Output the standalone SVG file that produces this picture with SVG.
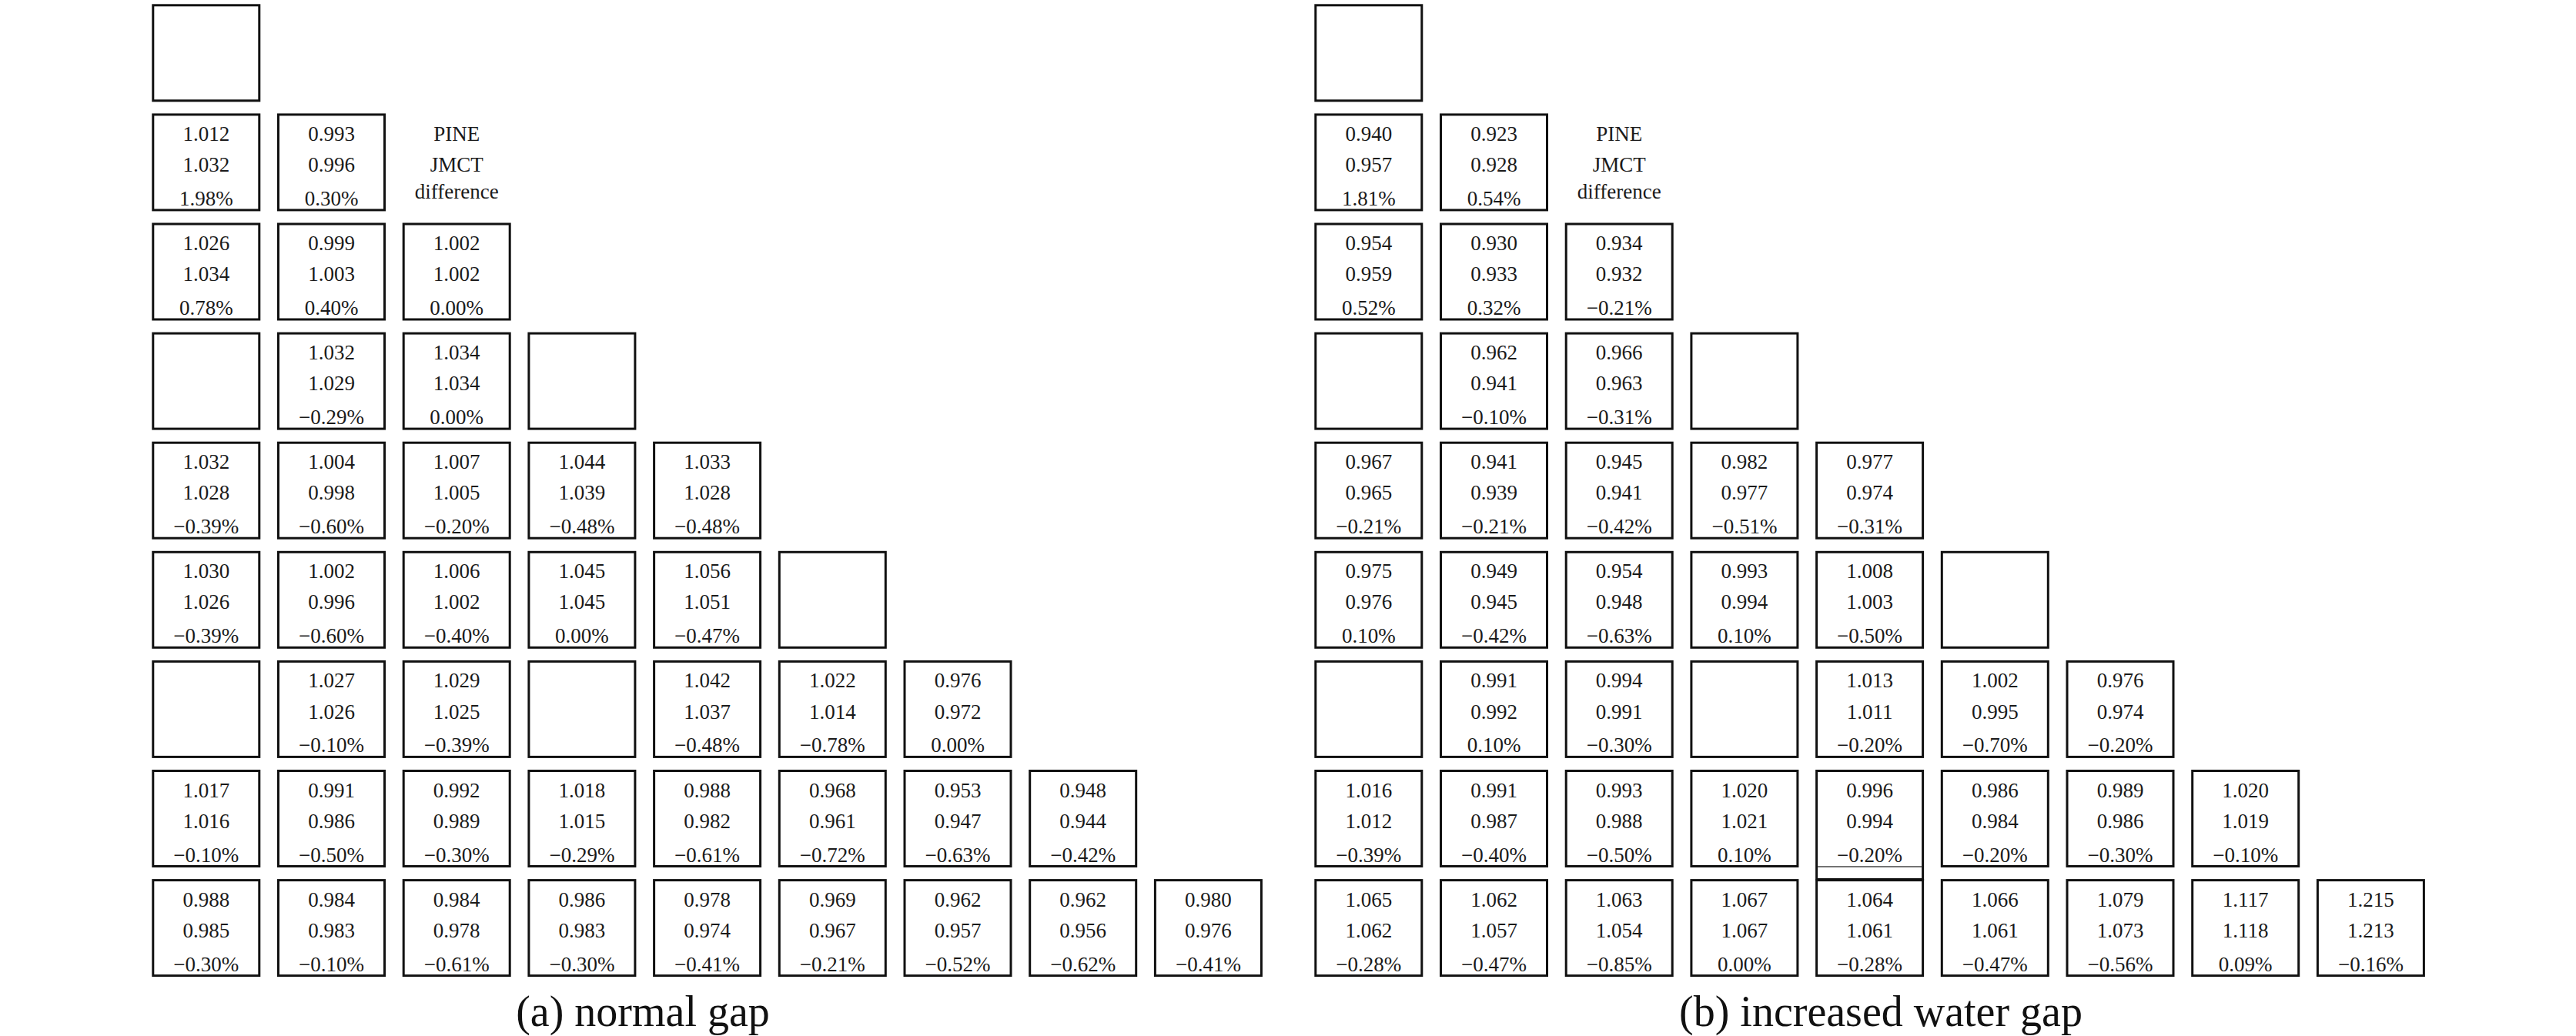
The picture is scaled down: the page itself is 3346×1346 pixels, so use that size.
<svg xmlns="http://www.w3.org/2000/svg" width="3346" height="1346" viewBox="0 0 3346 1346">
<style>
.b{fill:none;stroke:#111;stroke-width:3}
.t{font-family:"Liberation Serif","Times New Roman",serif;font-size:27px;fill:#1a1a1a;text-anchor:middle}
.cap{font-family:"Liberation Serif","Times New Roman",serif;font-size:56px;fill:#111;text-anchor:middle}
</style>
<rect width="3346" height="1346" fill="#fff"/>
<defs>
<rect id="box" class="b" x="1.5" y="1.5" width="138" height="124"/>
</defs>
<g id="panel-a">
<g id="a-r0c0" transform="translate(197.3,5.3)"><use href="#box"/></g>
<g id="a-r1c0" transform="translate(197.3,147.4)"><use href="#box"/><text class="t" x="70.5" y="35.5">1.012</text><text class="t" x="70.5" y="75.7">1.032</text><text class="t" x="70.5" y="119.5">1.98%</text></g>
<g id="a-r1c1" transform="translate(360,147.4)"><use href="#box"/><text class="t" x="70.5" y="35.5">0.993</text><text class="t" x="70.5" y="75.7">0.996</text><text class="t" x="70.5" y="119.5">0.30%</text></g>
<g id="a-legend" transform="translate(522.7,147.4)"><text class="t" x="70.5" y="35.5">PINE</text><text class="t" x="70.5" y="75.7">JMCT</text><text class="t" x="70.5" y="110.5">difference</text></g>
<g id="a-r2c0" transform="translate(197.3,289.5)"><use href="#box"/><text class="t" x="70.5" y="35.5">1.026</text><text class="t" x="70.5" y="75.7">1.034</text><text class="t" x="70.5" y="119.5">0.78%</text></g>
<g id="a-r2c1" transform="translate(360,289.5)"><use href="#box"/><text class="t" x="70.5" y="35.5">0.999</text><text class="t" x="70.5" y="75.7">1.003</text><text class="t" x="70.5" y="119.5">0.40%</text></g>
<g id="a-r2c2" transform="translate(522.7,289.5)"><use href="#box"/><text class="t" x="70.5" y="35.5">1.002</text><text class="t" x="70.5" y="75.7">1.002</text><text class="t" x="70.5" y="119.5">0.00%</text></g>
<g id="a-r3c0" transform="translate(197.3,431.6)"><use href="#box"/></g>
<g id="a-r3c1" transform="translate(360,431.6)"><use href="#box"/><text class="t" x="70.5" y="35.5">1.032</text><text class="t" x="70.5" y="75.7">1.029</text><text class="t" x="70.5" y="119.5">−0.29%</text></g>
<g id="a-r3c2" transform="translate(522.7,431.6)"><use href="#box"/><text class="t" x="70.5" y="35.5">1.034</text><text class="t" x="70.5" y="75.7">1.034</text><text class="t" x="70.5" y="119.5">0.00%</text></g>
<g id="a-r3c3" transform="translate(685.4,431.6)"><use href="#box"/></g>
<g id="a-r4c0" transform="translate(197.3,573.7)"><use href="#box"/><text class="t" x="70.5" y="35.5">1.032</text><text class="t" x="70.5" y="75.7">1.028</text><text class="t" x="70.5" y="119.5">−0.39%</text></g>
<g id="a-r4c1" transform="translate(360,573.7)"><use href="#box"/><text class="t" x="70.5" y="35.5">1.004</text><text class="t" x="70.5" y="75.7">0.998</text><text class="t" x="70.5" y="119.5">−0.60%</text></g>
<g id="a-r4c2" transform="translate(522.7,573.7)"><use href="#box"/><text class="t" x="70.5" y="35.5">1.007</text><text class="t" x="70.5" y="75.7">1.005</text><text class="t" x="70.5" y="119.5">−0.20%</text></g>
<g id="a-r4c3" transform="translate(685.4,573.7)"><use href="#box"/><text class="t" x="70.5" y="35.5">1.044</text><text class="t" x="70.5" y="75.7">1.039</text><text class="t" x="70.5" y="119.5">−0.48%</text></g>
<g id="a-r4c4" transform="translate(848.1,573.7)"><use href="#box"/><text class="t" x="70.5" y="35.5">1.033</text><text class="t" x="70.5" y="75.7">1.028</text><text class="t" x="70.5" y="119.5">−0.48%</text></g>
<g id="a-r5c0" transform="translate(197.3,715.8)"><use href="#box"/><text class="t" x="70.5" y="35.5">1.030</text><text class="t" x="70.5" y="75.7">1.026</text><text class="t" x="70.5" y="119.5">−0.39%</text></g>
<g id="a-r5c1" transform="translate(360,715.8)"><use href="#box"/><text class="t" x="70.5" y="35.5">1.002</text><text class="t" x="70.5" y="75.7">0.996</text><text class="t" x="70.5" y="119.5">−0.60%</text></g>
<g id="a-r5c2" transform="translate(522.7,715.8)"><use href="#box"/><text class="t" x="70.5" y="35.5">1.006</text><text class="t" x="70.5" y="75.7">1.002</text><text class="t" x="70.5" y="119.5">−0.40%</text></g>
<g id="a-r5c3" transform="translate(685.4,715.8)"><use href="#box"/><text class="t" x="70.5" y="35.5">1.045</text><text class="t" x="70.5" y="75.7">1.045</text><text class="t" x="70.5" y="119.5">0.00%</text></g>
<g id="a-r5c4" transform="translate(848.1,715.8)"><use href="#box"/><text class="t" x="70.5" y="35.5">1.056</text><text class="t" x="70.5" y="75.7">1.051</text><text class="t" x="70.5" y="119.5">−0.47%</text></g>
<g id="a-r5c5" transform="translate(1010.8,715.8)"><use href="#box"/></g>
<g id="a-r6c0" transform="translate(197.3,857.9)"><use href="#box"/></g>
<g id="a-r6c1" transform="translate(360,857.9)"><use href="#box"/><text class="t" x="70.5" y="35.5">1.027</text><text class="t" x="70.5" y="75.7">1.026</text><text class="t" x="70.5" y="119.5">−0.10%</text></g>
<g id="a-r6c2" transform="translate(522.7,857.9)"><use href="#box"/><text class="t" x="70.5" y="35.5">1.029</text><text class="t" x="70.5" y="75.7">1.025</text><text class="t" x="70.5" y="119.5">−0.39%</text></g>
<g id="a-r6c3" transform="translate(685.4,857.9)"><use href="#box"/></g>
<g id="a-r6c4" transform="translate(848.1,857.9)"><use href="#box"/><text class="t" x="70.5" y="35.5">1.042</text><text class="t" x="70.5" y="75.7">1.037</text><text class="t" x="70.5" y="119.5">−0.48%</text></g>
<g id="a-r6c5" transform="translate(1010.8,857.9)"><use href="#box"/><text class="t" x="70.5" y="35.5">1.022</text><text class="t" x="70.5" y="75.7">1.014</text><text class="t" x="70.5" y="119.5">−0.78%</text></g>
<g id="a-r6c6" transform="translate(1173.5,857.9)"><use href="#box"/><text class="t" x="70.5" y="35.5">0.976</text><text class="t" x="70.5" y="75.7">0.972</text><text class="t" x="70.5" y="119.5">0.00%</text></g>
<g id="a-r7c0" transform="translate(197.3,1000)"><use href="#box"/><text class="t" x="70.5" y="35.5">1.017</text><text class="t" x="70.5" y="75.7">1.016</text><text class="t" x="70.5" y="119.5">−0.10%</text></g>
<g id="a-r7c1" transform="translate(360,1000)"><use href="#box"/><text class="t" x="70.5" y="35.5">0.991</text><text class="t" x="70.5" y="75.7">0.986</text><text class="t" x="70.5" y="119.5">−0.50%</text></g>
<g id="a-r7c2" transform="translate(522.7,1000)"><use href="#box"/><text class="t" x="70.5" y="35.5">0.992</text><text class="t" x="70.5" y="75.7">0.989</text><text class="t" x="70.5" y="119.5">−0.30%</text></g>
<g id="a-r7c3" transform="translate(685.4,1000)"><use href="#box"/><text class="t" x="70.5" y="35.5">1.018</text><text class="t" x="70.5" y="75.7">1.015</text><text class="t" x="70.5" y="119.5">−0.29%</text></g>
<g id="a-r7c4" transform="translate(848.1,1000)"><use href="#box"/><text class="t" x="70.5" y="35.5">0.988</text><text class="t" x="70.5" y="75.7">0.982</text><text class="t" x="70.5" y="119.5">−0.61%</text></g>
<g id="a-r7c5" transform="translate(1010.8,1000)"><use href="#box"/><text class="t" x="70.5" y="35.5">0.968</text><text class="t" x="70.5" y="75.7">0.961</text><text class="t" x="70.5" y="119.5">−0.72%</text></g>
<g id="a-r7c6" transform="translate(1173.5,1000)"><use href="#box"/><text class="t" x="70.5" y="35.5">0.953</text><text class="t" x="70.5" y="75.7">0.947</text><text class="t" x="70.5" y="119.5">−0.63%</text></g>
<g id="a-r7c7" transform="translate(1336.2,1000)"><use href="#box"/><text class="t" x="70.5" y="35.5">0.948</text><text class="t" x="70.5" y="75.7">0.944</text><text class="t" x="70.5" y="119.5">−0.42%</text></g>
<g id="a-r8c0" transform="translate(197.3,1142.1)"><use href="#box"/><text class="t" x="70.5" y="35.5">0.988</text><text class="t" x="70.5" y="75.7">0.985</text><text class="t" x="70.5" y="119.5">−0.30%</text></g>
<g id="a-r8c1" transform="translate(360,1142.1)"><use href="#box"/><text class="t" x="70.5" y="35.5">0.984</text><text class="t" x="70.5" y="75.7">0.983</text><text class="t" x="70.5" y="119.5">−0.10%</text></g>
<g id="a-r8c2" transform="translate(522.7,1142.1)"><use href="#box"/><text class="t" x="70.5" y="35.5">0.984</text><text class="t" x="70.5" y="75.7">0.978</text><text class="t" x="70.5" y="119.5">−0.61%</text></g>
<g id="a-r8c3" transform="translate(685.4,1142.1)"><use href="#box"/><text class="t" x="70.5" y="35.5">0.986</text><text class="t" x="70.5" y="75.7">0.983</text><text class="t" x="70.5" y="119.5">−0.30%</text></g>
<g id="a-r8c4" transform="translate(848.1,1142.1)"><use href="#box"/><text class="t" x="70.5" y="35.5">0.978</text><text class="t" x="70.5" y="75.7">0.974</text><text class="t" x="70.5" y="119.5">−0.41%</text></g>
<g id="a-r8c5" transform="translate(1010.8,1142.1)"><use href="#box"/><text class="t" x="70.5" y="35.5">0.969</text><text class="t" x="70.5" y="75.7">0.967</text><text class="t" x="70.5" y="119.5">−0.21%</text></g>
<g id="a-r8c6" transform="translate(1173.5,1142.1)"><use href="#box"/><text class="t" x="70.5" y="35.5">0.962</text><text class="t" x="70.5" y="75.7">0.957</text><text class="t" x="70.5" y="119.5">−0.52%</text></g>
<g id="a-r8c7" transform="translate(1336.2,1142.1)"><use href="#box"/><text class="t" x="70.5" y="35.5">0.962</text><text class="t" x="70.5" y="75.7">0.956</text><text class="t" x="70.5" y="119.5">−0.62%</text></g>
<g id="a-r8c8" transform="translate(1498.9,1142.1)"><use href="#box"/><text class="t" x="70.5" y="35.5">0.980</text><text class="t" x="70.5" y="75.7">0.976</text><text class="t" x="70.5" y="119.5">−0.41%</text></g>
<text id="caption-a" class="cap" x="835" y="1333">(a) normal gap</text>
</g>
<g id="panel-b">
<g id="b-r0c0" transform="translate(1707.3,5.3)"><use href="#box"/></g>
<g id="b-r1c0" transform="translate(1707.3,147.4)"><use href="#box"/><text class="t" x="70.5" y="35.5">0.940</text><text class="t" x="70.5" y="75.7">0.957</text><text class="t" x="70.5" y="119.5">1.81%</text></g>
<g id="b-r1c1" transform="translate(1870,147.4)"><use href="#box"/><text class="t" x="70.5" y="35.5">0.923</text><text class="t" x="70.5" y="75.7">0.928</text><text class="t" x="70.5" y="119.5">0.54%</text></g>
<g id="b-legend" transform="translate(2032.7,147.4)"><text class="t" x="70.5" y="35.5">PINE</text><text class="t" x="70.5" y="75.7">JMCT</text><text class="t" x="70.5" y="110.5">difference</text></g>
<g id="b-r2c0" transform="translate(1707.3,289.5)"><use href="#box"/><text class="t" x="70.5" y="35.5">0.954</text><text class="t" x="70.5" y="75.7">0.959</text><text class="t" x="70.5" y="119.5">0.52%</text></g>
<g id="b-r2c1" transform="translate(1870,289.5)"><use href="#box"/><text class="t" x="70.5" y="35.5">0.930</text><text class="t" x="70.5" y="75.7">0.933</text><text class="t" x="70.5" y="119.5">0.32%</text></g>
<g id="b-r2c2" transform="translate(2032.7,289.5)"><use href="#box"/><text class="t" x="70.5" y="35.5">0.934</text><text class="t" x="70.5" y="75.7">0.932</text><text class="t" x="70.5" y="119.5">−0.21%</text></g>
<g id="b-r3c0" transform="translate(1707.3,431.6)"><use href="#box"/></g>
<g id="b-r3c1" transform="translate(1870,431.6)"><use href="#box"/><text class="t" x="70.5" y="35.5">0.962</text><text class="t" x="70.5" y="75.7">0.941</text><text class="t" x="70.5" y="119.5">−0.10%</text></g>
<g id="b-r3c2" transform="translate(2032.7,431.6)"><use href="#box"/><text class="t" x="70.5" y="35.5">0.966</text><text class="t" x="70.5" y="75.7">0.963</text><text class="t" x="70.5" y="119.5">−0.31%</text></g>
<g id="b-r3c3" transform="translate(2195.4,431.6)"><use href="#box"/></g>
<g id="b-r4c0" transform="translate(1707.3,573.7)"><use href="#box"/><text class="t" x="70.5" y="35.5">0.967</text><text class="t" x="70.5" y="75.7">0.965</text><text class="t" x="70.5" y="119.5">−0.21%</text></g>
<g id="b-r4c1" transform="translate(1870,573.7)"><use href="#box"/><text class="t" x="70.5" y="35.5">0.941</text><text class="t" x="70.5" y="75.7">0.939</text><text class="t" x="70.5" y="119.5">−0.21%</text></g>
<g id="b-r4c2" transform="translate(2032.7,573.7)"><use href="#box"/><text class="t" x="70.5" y="35.5">0.945</text><text class="t" x="70.5" y="75.7">0.941</text><text class="t" x="70.5" y="119.5">−0.42%</text></g>
<g id="b-r4c3" transform="translate(2195.4,573.7)"><use href="#box"/><text class="t" x="70.5" y="35.5">0.982</text><text class="t" x="70.5" y="75.7">0.977</text><text class="t" x="70.5" y="119.5">−0.51%</text></g>
<g id="b-r4c4" transform="translate(2358.1,573.7)"><use href="#box"/><text class="t" x="70.5" y="35.5">0.977</text><text class="t" x="70.5" y="75.7">0.974</text><text class="t" x="70.5" y="119.5">−0.31%</text></g>
<g id="b-r5c0" transform="translate(1707.3,715.8)"><use href="#box"/><text class="t" x="70.5" y="35.5">0.975</text><text class="t" x="70.5" y="75.7">0.976</text><text class="t" x="70.5" y="119.5">0.10%</text></g>
<g id="b-r5c1" transform="translate(1870,715.8)"><use href="#box"/><text class="t" x="70.5" y="35.5">0.949</text><text class="t" x="70.5" y="75.7">0.945</text><text class="t" x="70.5" y="119.5">−0.42%</text></g>
<g id="b-r5c2" transform="translate(2032.7,715.8)"><use href="#box"/><text class="t" x="70.5" y="35.5">0.954</text><text class="t" x="70.5" y="75.7">0.948</text><text class="t" x="70.5" y="119.5">−0.63%</text></g>
<g id="b-r5c3" transform="translate(2195.4,715.8)"><use href="#box"/><text class="t" x="70.5" y="35.5">0.993</text><text class="t" x="70.5" y="75.7">0.994</text><text class="t" x="70.5" y="119.5">0.10%</text></g>
<g id="b-r5c4" transform="translate(2358.1,715.8)"><use href="#box"/><text class="t" x="70.5" y="35.5">1.008</text><text class="t" x="70.5" y="75.7">1.003</text><text class="t" x="70.5" y="119.5">−0.50%</text></g>
<g id="b-r5c5" transform="translate(2520.8,715.8)"><use href="#box"/></g>
<g id="b-r6c0" transform="translate(1707.3,857.9)"><use href="#box"/></g>
<g id="b-r6c1" transform="translate(1870,857.9)"><use href="#box"/><text class="t" x="70.5" y="35.5">0.991</text><text class="t" x="70.5" y="75.7">0.992</text><text class="t" x="70.5" y="119.5">0.10%</text></g>
<g id="b-r6c2" transform="translate(2032.7,857.9)"><use href="#box"/><text class="t" x="70.5" y="35.5">0.994</text><text class="t" x="70.5" y="75.7">0.991</text><text class="t" x="70.5" y="119.5">−0.30%</text></g>
<g id="b-r6c3" transform="translate(2195.4,857.9)"><use href="#box"/></g>
<g id="b-r6c4" transform="translate(2358.1,857.9)"><use href="#box"/><text class="t" x="70.5" y="35.5">1.013</text><text class="t" x="70.5" y="75.7">1.011</text><text class="t" x="70.5" y="119.5">−0.20%</text></g>
<g id="b-r6c5" transform="translate(2520.8,857.9)"><use href="#box"/><text class="t" x="70.5" y="35.5">1.002</text><text class="t" x="70.5" y="75.7">0.995</text><text class="t" x="70.5" y="119.5">−0.70%</text></g>
<g id="b-r6c6" transform="translate(2683.5,857.9)"><use href="#box"/><text class="t" x="70.5" y="35.5">0.976</text><text class="t" x="70.5" y="75.7">0.974</text><text class="t" x="70.5" y="119.5">−0.20%</text></g>
<g id="b-r7c0" transform="translate(1707.3,1000)"><use href="#box"/><text class="t" x="70.5" y="35.5">1.016</text><text class="t" x="70.5" y="75.7">1.012</text><text class="t" x="70.5" y="119.5">−0.39%</text></g>
<g id="b-r7c1" transform="translate(1870,1000)"><use href="#box"/><text class="t" x="70.5" y="35.5">0.991</text><text class="t" x="70.5" y="75.7">0.987</text><text class="t" x="70.5" y="119.5">−0.40%</text></g>
<g id="b-r7c2" transform="translate(2032.7,1000)"><use href="#box"/><text class="t" x="70.5" y="35.5">0.993</text><text class="t" x="70.5" y="75.7">0.988</text><text class="t" x="70.5" y="119.5">−0.50%</text></g>
<g id="b-r7c3" transform="translate(2195.4,1000)"><use href="#box"/><text class="t" x="70.5" y="35.5">1.020</text><text class="t" x="70.5" y="75.7">1.021</text><text class="t" x="70.5" y="119.5">0.10%</text></g>
<g id="b-r7c4" transform="translate(2358.1,1000)"><rect class="b" x="1.5" y="1.5" width="138" height="141"/><line x1="3" y1="126" x2="138" y2="126" stroke="#444" stroke-width="1.3"/><text class="t" x="70.5" y="35.5">0.996</text><text class="t" x="70.5" y="75.7">0.994</text><text class="t" x="70.5" y="119.5">−0.20%</text></g>
<g id="b-r7c5" transform="translate(2520.8,1000)"><use href="#box"/><text class="t" x="70.5" y="35.5">0.986</text><text class="t" x="70.5" y="75.7">0.984</text><text class="t" x="70.5" y="119.5">−0.20%</text></g>
<g id="b-r7c6" transform="translate(2683.5,1000)"><use href="#box"/><text class="t" x="70.5" y="35.5">0.989</text><text class="t" x="70.5" y="75.7">0.986</text><text class="t" x="70.5" y="119.5">−0.30%</text></g>
<g id="b-r7c7" transform="translate(2846.2,1000)"><use href="#box"/><text class="t" x="70.5" y="35.5">1.020</text><text class="t" x="70.5" y="75.7">1.019</text><text class="t" x="70.5" y="119.5">−0.10%</text></g>
<g id="b-r8c0" transform="translate(1707.3,1142.1)"><use href="#box"/><text class="t" x="70.5" y="35.5">1.065</text><text class="t" x="70.5" y="75.7">1.062</text><text class="t" x="70.5" y="119.5">−0.28%</text></g>
<g id="b-r8c1" transform="translate(1870,1142.1)"><use href="#box"/><text class="t" x="70.5" y="35.5">1.062</text><text class="t" x="70.5" y="75.7">1.057</text><text class="t" x="70.5" y="119.5">−0.47%</text></g>
<g id="b-r8c2" transform="translate(2032.7,1142.1)"><use href="#box"/><text class="t" x="70.5" y="35.5">1.063</text><text class="t" x="70.5" y="75.7">1.054</text><text class="t" x="70.5" y="119.5">−0.85%</text></g>
<g id="b-r8c3" transform="translate(2195.4,1142.1)"><use href="#box"/><text class="t" x="70.5" y="35.5">1.067</text><text class="t" x="70.5" y="75.7">1.067</text><text class="t" x="70.5" y="119.5">0.00%</text></g>
<g id="b-r8c4" transform="translate(2358.1,1142.1)"><use href="#box"/><text class="t" x="70.5" y="35.5">1.064</text><text class="t" x="70.5" y="75.7">1.061</text><text class="t" x="70.5" y="119.5">−0.28%</text></g>
<g id="b-r8c5" transform="translate(2520.8,1142.1)"><use href="#box"/><text class="t" x="70.5" y="35.5">1.066</text><text class="t" x="70.5" y="75.7">1.061</text><text class="t" x="70.5" y="119.5">−0.47%</text></g>
<g id="b-r8c6" transform="translate(2683.5,1142.1)"><use href="#box"/><text class="t" x="70.5" y="35.5">1.079</text><text class="t" x="70.5" y="75.7">1.073</text><text class="t" x="70.5" y="119.5">−0.56%</text></g>
<g id="b-r8c7" transform="translate(2846.2,1142.1)"><use href="#box"/><text class="t" x="70.5" y="35.5">1.117</text><text class="t" x="70.5" y="75.7">1.118</text><text class="t" x="70.5" y="119.5">0.09%</text></g>
<g id="b-r8c8" transform="translate(3008.9,1142.1)"><use href="#box"/><text class="t" x="70.5" y="35.5">1.215</text><text class="t" x="70.5" y="75.7">1.213</text><text class="t" x="70.5" y="119.5">−0.16%</text></g>
<text id="caption-b" class="cap" x="2443" y="1333">(b) increased water gap</text>
</g>
<g id="connectors"/>
</svg>
